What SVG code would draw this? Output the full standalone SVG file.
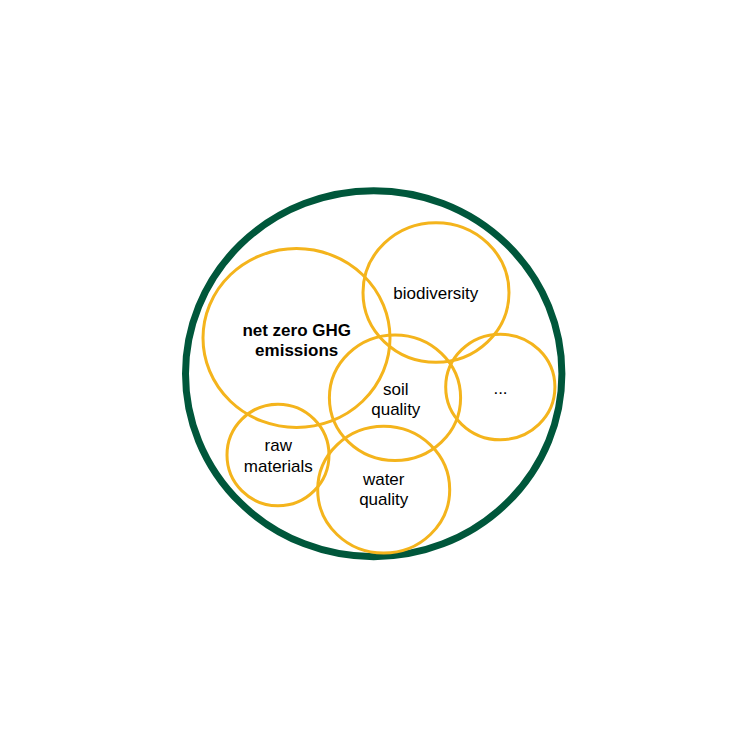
<svg xmlns="http://www.w3.org/2000/svg" width="750" height="750" viewBox="0 0 750 750">
<style>
.outer{fill:none;stroke:#00573B;stroke-width:7}
.c{fill:none;stroke:#F4B41C;stroke-width:3}
.t{font-family:"Liberation Sans",Arial,sans-serif;font-size:17px;fill:#000;text-anchor:middle}
.b{font-weight:bold}
</style>
<rect width="750" height="750" fill="#fff"/>
<g id="outer"><ellipse class="outer" cx="373.7" cy="373.7" rx="188.2" ry="183"/></g>
<g id="net-zero"><ellipse class="c" cx="296.5" cy="338" rx="93.5" ry="89.5"/>
<text class="t b" x="296.7" y="335.5">net zero GHG</text><text class="t b" x="296.7" y="355.5">emissions</text></g>
<g id="biodiversity"><ellipse class="c" cx="436" cy="292.5" rx="73" ry="69.8"/>
<text class="t" x="435.8" y="299.3">biodiversity</text></g>
<g id="soil-quality"><ellipse class="c" cx="395" cy="397.8" rx="65.6" ry="62.8"/>
<text class="t" x="395.8" y="394.5">soil</text><text class="t" x="395.8" y="414.5">quality</text></g>
<g id="more"><ellipse class="c" cx="500.3" cy="387" rx="54.6" ry="52.8"/>
<text class="t" x="500.5" y="394.3">...</text></g>
<g id="raw-materials"><ellipse class="c" cx="278" cy="455" rx="51" ry="50.8"/>
<text class="t" x="278.3" y="451.2">raw</text><text class="t" x="278.3" y="471.5">materials</text></g>
<g id="water-quality"><ellipse class="c" cx="383.7" cy="489.7" rx="66" ry="63.4"/>
<text class="t" x="383.7" y="485.3">water</text><text class="t" x="383.7" y="505.3">quality</text></g>
<g id="connectors"/>
</svg>
